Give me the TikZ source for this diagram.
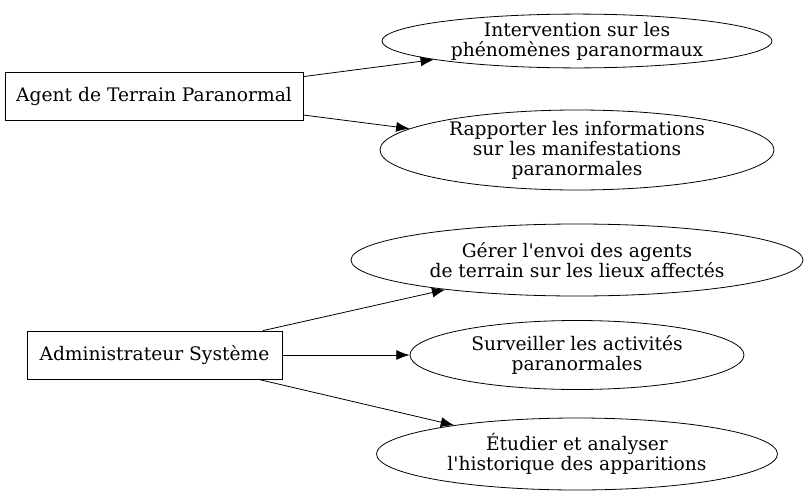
\documentclass[tikz,border=0pt]{standalone}
\usepackage{fontspec}
\setmainfont{DejaVu Serif}
\usepackage{tikz}
\usetikzlibrary{shapes.geometric, arrows.meta}

\tikzset{
    acteur/.style={draw, rectangle, line width=0.6pt, inner sep=0pt,
        minimum height=36pt, font=\fontsize{14}{15}\selectfont},
    tache/.style={draw, ellipse, line width=0.6pt, inner sep=0pt, align=center,
        font=\fontsize{14}{15}\selectfont},
    lien/.style={-{Latex[length=10pt, width=7.5pt]}, line width=0.6pt}
}

\begin{document}
\begin{tikzpicture}[x=0.75pt, y=-0.75pt]
    \useasboundingbox (0,0) rectangle (808,493);

    % Hai tác nhân
    \node[acteur, minimum width=223.5pt] (agent) at (154,96) {Agent de Terrain Paranormal};
    \node[acteur, minimum width=191.25pt] (admin) at (154.5,355) {Administrateur Système};

    % Các ca sử dụng
    \node[tache, minimum width=292.5pt, minimum height=37pt] (interv) at (577,41)
        {Intervention sur les\\phénomènes paranormaux};
    \node[tache, minimum width=295.5pt, minimum height=60pt, inner sep=-3pt] (rapport) at (577,150)
        {Rapporter les informations\\sur les manifestations\\paranormales};
    \node[tache, minimum width=339pt, minimum height=54pt] (envoi) at (577,260)
        {Gérer l\textquotesingle envoi des agents\\de terrain sur les lieux affectés};
    \node[tache, minimum width=250.5pt, minimum height=51.75pt] (surv) at (577,355)
        {Surveiller les activités\\paranormales};
    \node[tache, minimum width=300.75pt, minimum height=54pt] (etude) at (577,454)
        {Étudier et analyser\\l\textquotesingle historique des apparitions};

    % Mũi tên nối
    \draw[lien] (agent) -- (interv);
    \draw[lien] (agent) -- (rapport);
    \draw[lien] (admin) -- (envoi);
    \draw[lien] (admin) -- (surv);
    \draw[lien] (admin) -- (etude);
\end{tikzpicture}
\end{document}
